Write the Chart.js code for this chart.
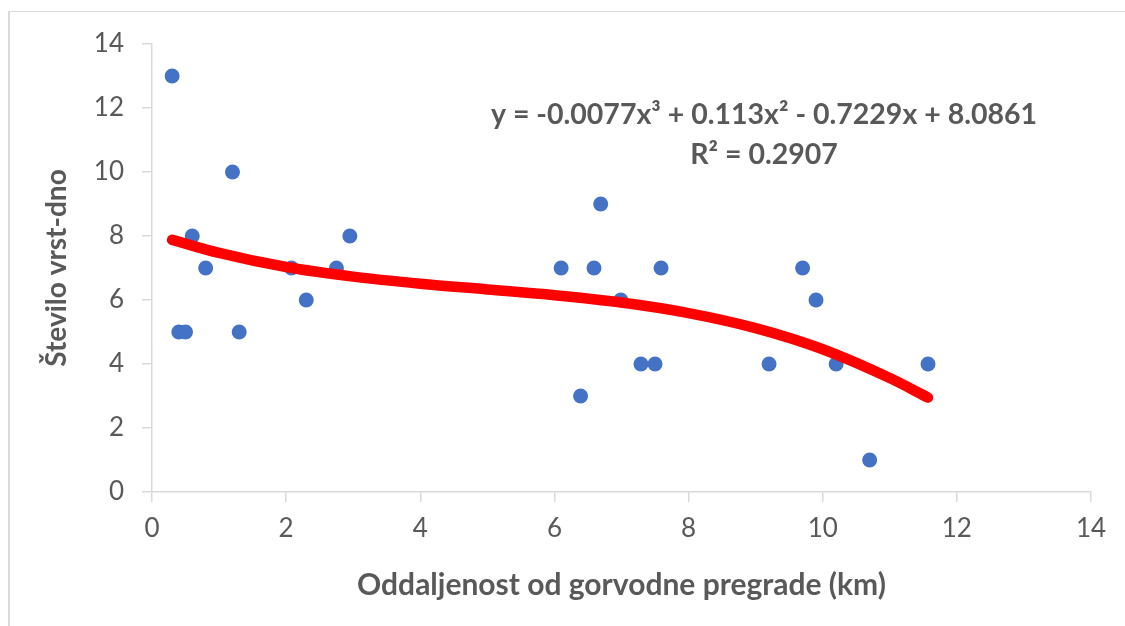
<!DOCTYPE html>
<html>
<head>
<meta charset="utf-8">
<script src="https://cdn.jsdelivr.net/npm/chart.js@4.4.0/dist/chart.umd.min.js"></script>
<style>
  html, body { margin: 0; padding: 0; background: #fff; }
  #frame { position: absolute; left: 8px; top: 11px; width: 1117px; height: 615px;
           border-left: 2px solid #d9d9d9; border-top: 1px solid #d9d9d9; box-sizing: border-box; }
  #wrap { position: absolute; left: 0; top: 0; width: 1125px; height: 626px; }
</style>
</head>
<body>
<div id="frame"></div>
<div id="wrap"><canvas id="chart" width="1125" height="626"></canvas></div>
<script>
// distance from the dam (km) and number of species per sample
const distKm = [0.3, 0.4, 0.5, 0.6, 0.8, 1.2, 1.3, 2.08, 2.3, 2.75, 2.95,
                6.1, 6.39, 6.59, 6.69, 6.99, 7.29, 7.5, 7.59,
                9.2, 9.7, 9.9, 10.2, 10.7, 11.57];
const species = [13, 5, 5, 8, 7, 10, 5, 7, 6, 7, 8,
                 7, 3, 7, 9, 6, 4, 4, 7,
                 4, 7, 6, 4, 1, 4];

// polynomial trendline
const trendX = [0.3, 1, 2, 3, 4, 5, 6, 7, 8, 9, 10, 11, 11.57];
const trendY = [7.88, 7.47, 7.03, 6.73, 6.51, 6.33, 6.15, 5.92, 5.59, 5.12, 4.46, 3.56, 2.95];

const xTicks = [0, 2, 4, 6, 8, 10, 12, 14];
const yTicks = [0, 2, 4, 6, 8, 10, 12, 14];

const eqLines = ["y = -0.0077x\u00B3 + 0.113x\u00B2 - 0.7229x + 8.0861", "R\u00B2 = 0.2907"];

const grey = '#595959';
const fontFam = 'Lato, "Open Sans", sans-serif';

const eqLabel = {
  id: 'eqLabel',
  afterDatasetsDraw(chart) {
    const { ctx, chartArea } = chart;
    ctx.save();
    ctx.fillStyle = grey;
    ctx.font = 'bold 28.5px ' + fontFam;
    ctx.textAlign = 'center';
    ctx.textBaseline = 'middle';
    const cx = chartArea.left + 612;
    ctx.fillText(eqLines[0], cx, chartArea.top + 71);
    ctx.fillText(eqLines[1], cx, chartArea.top + 111);
    ctx.restore();
  }
};

new Chart(document.getElementById('chart'), {
  type: 'scatter',
  data: {
    datasets: [
      {
        label: 'trend',
        type: 'line',
        data: trendX.map((x, i) => ({ x: x, y: trendY[i] })),
        borderColor: '#ff0000',
        borderWidth: 10.5,
        borderCapStyle: 'round',
        pointRadius: 0,
        fill: false,
        cubicInterpolationMode: 'monotone',
        order: 0
      },
      {
        label: 'Število vrst-dno',
        data: distKm.map((x, i) => ({ x: x, y: species[i] })),
        backgroundColor: '#4472c4',
        borderColor: '#4472c4',
        pointRadius: 7.5,
        pointBorderWidth: 0,
        order: 1
      }
    ]
  },
  options: {
    responsive: false,
    animation: false,
    layout: { padding: { top: 44, right: 34, left: 0, bottom: 0 } },
    plugins: { legend: { display: false }, tooltip: { enabled: false } },
    scales: {
      x: {
        type: 'linear',
        min: 0, max: 14,
        afterBuildTicks: s => { s.ticks = xTicks.map(v => ({ value: v })); },
        afterFit: s => { s.height = 134; },
        grid: { drawOnChartArea: false, color: '#d9d9d9', tickLength: 10, lineWidth: 1.5 },
        border: { color: '#d9d9d9', width: 1.5 },
        ticks: { color: grey, font: { family: fontFam, size: 26 }, padding: 11, maxRotation: 0 },
        title: { display: true, text: 'Oddaljenost od gorvodne pregrade (km)', color: grey,
                 font: { family: fontFam, size: 30, weight: 'bold' }, padding: { top: 10, bottom: 23 } }
      },
      y: {
        min: 0, max: 14,
        afterBuildTicks: s => { s.ticks = yTicks.map(v => ({ value: v })); },
        afterFit: s => { s.width = 152; },
        grid: { drawOnChartArea: false, color: '#d9d9d9', tickLength: 10, lineWidth: 1.5 },
        border: { color: '#d9d9d9', width: 1.5 },
        ticks: { color: grey, font: { family: fontFam, size: 26 }, padding: 18 },
        title: { display: true, text: 'Število vrst-dno', color: grey,
                 font: { family: fontFam, size: 28, weight: 'bold' }, padding: { top: 40 } }
      }
    }
  },
  plugins: [eqLabel]
});
</script>
</body>
</html>
